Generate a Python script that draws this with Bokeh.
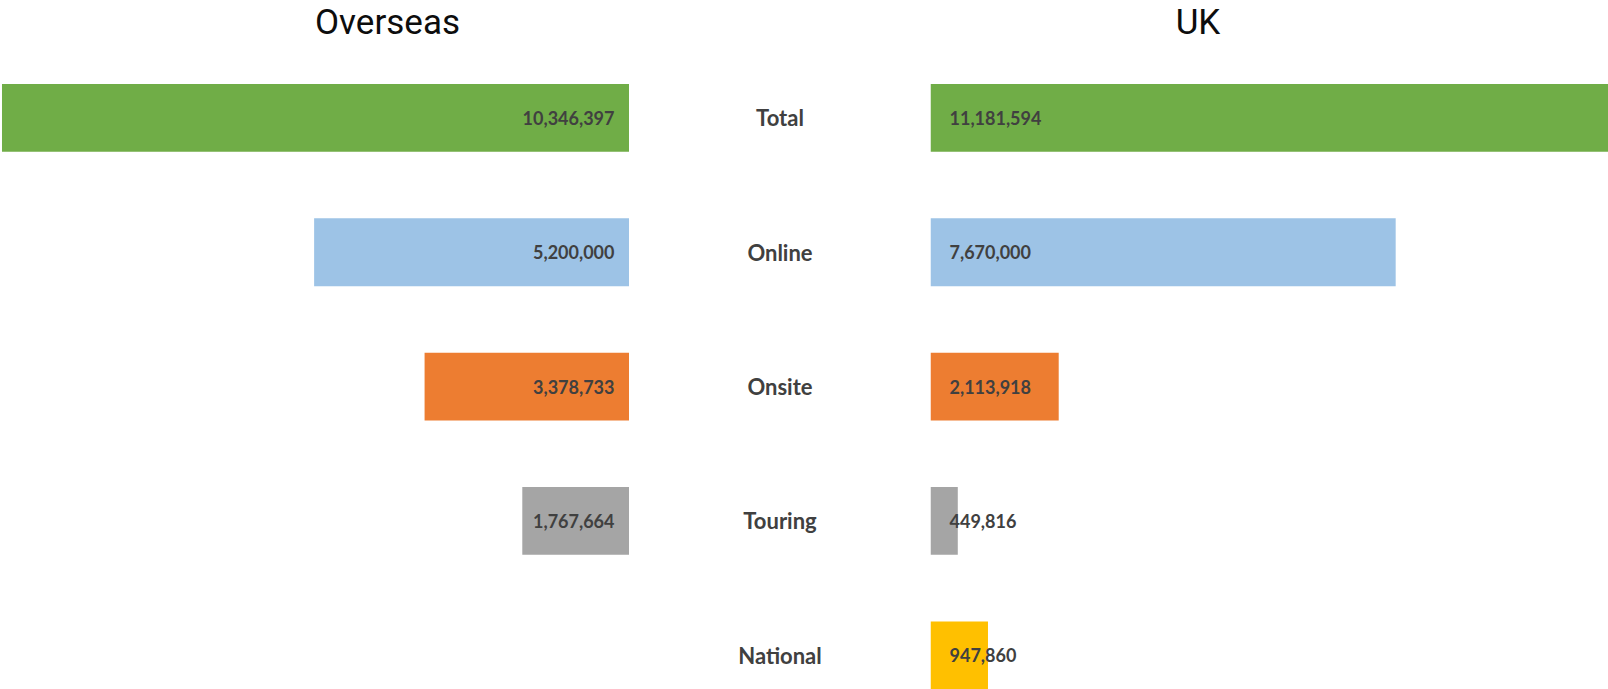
from bokeh.plotting import figure
from bokeh.models import ColumnDataSource, Range1d
from bokeh.layouts import row
from bokeh.embed import file_html
from bokeh.resources import INLINE
from bokeh.core.properties import value

# ---- data ----
categories = ["Total", "Online", "Onsite", "Touring", "National"]
overseas = [10346397, 5200000, 3378733, 1767664, None]
uk = [11181594, 7670000, 2113918, 449816, 947860]
colors = ["#70AD47", "#9DC3E6", "#ED7D31", "#A5A5A5", "#FFC000"]
panel_titles = ["Overseas", "UK"]

# ---- layout constants ----
H = 689
W_LEFT, W_MID, W_RIGHT = 629, 301, 678
PX_PER_UNIT = 60.65 / 1e6      # pixels per visitor
ROW_PITCH = 134.35             # pixels between category rows
FIRST_ROW = 117.4              # px from top to first row centre
BAR_H = 0.505
y_top = -FIRST_ROW / ROW_PITCH
y_bottom = y_top + H / ROW_PITCH
TITLE_POS_PX = 22.0
title_y = y_top + TITLE_POS_PX / ROW_PITCH

LABEL_FONT = value("Lato")
TITLE_FONT = value("Roboto")
TEXT_COLOR = "#404040"


def base_fig(width, x_range):
    p = figure(width=width, height=H, x_range=x_range,
               y_range=Range1d(start=y_bottom, end=y_top),
               output_backend="svg", toolbar_location=None,
               min_border=0, min_border_left=0, min_border_right=0,
               min_border_top=0, min_border_bottom=0)
    p.axis.visible = False
    p.grid.visible = False
    p.outline_line_color = None
    p.background_fill_color = "white"
    p.border_fill_color = "white"
    return p


def make_source(vals):
    ys, vs, cs, ts = [], [], [], []
    for i, v in enumerate(vals):
        if v is None:
            continue
        ys.append(i)
        vs.append(v)
        cs.append(colors[i])
        ts.append(f"{v:,}")
    return ColumnDataSource(dict(y=ys, v=vs, c=cs, t=ts))


def add_title(p, x, text):
    p.text(x=[x], y=[title_y], text=[text], text_align="center",
           text_baseline="alphabetic", text_font=TITLE_FONT,
           text_font_size="35px", text_color="#0d0d0d")


# ---- left: Overseas (reversed axis) ----
left = base_fig(W_LEFT, Range1d(start=W_LEFT / PX_PER_UNIT, end=0))
src_o = make_source(overseas)
left.hbar(y="y", left=0, right="v", height=BAR_H, fill_color="c",
          line_color=None, source=src_o)
left.text(x=0, y="y", text="t", source=src_o, text_align="right",
          text_baseline="middle", x_offset=-15, text_font=LABEL_FONT,
          text_font_style="bold", text_font_size="18px", text_color=TEXT_COLOR)
add_title(left, (W_LEFT - 387) / PX_PER_UNIT, panel_titles[0])

# ---- middle: category labels ----
mid = base_fig(W_MID, Range1d(0, 1))
src_c = ColumnDataSource(dict(y=list(range(len(categories))), t=categories,
                              x=[0.5] * len(categories)))
mid.text(x="x", y="y", text="t", source=src_c, text_align="center",
         text_baseline="middle", text_font=LABEL_FONT, text_font_style="bold",
         text_font_size="22px", text_color=TEXT_COLOR)

# ---- right: UK ----
right = base_fig(W_RIGHT, Range1d(start=0, end=W_RIGHT / PX_PER_UNIT))
src_u = make_source(uk)
right.hbar(y="y", left=0, right="v", height=BAR_H, fill_color="c",
           line_color=None, source=src_u)
right.text(x=0, y="y", text="t", source=src_u, text_align="left",
           text_baseline="middle", x_offset=19, text_font=LABEL_FONT,
           text_font_style="bold", text_font_size="18px", text_color=TEXT_COLOR)
add_title(right, 267.5 / PX_PER_UNIT, panel_titles[1])

layout = row(left, mid, right, spacing=0)
open("out.html", "w").write(file_html(layout, INLINE))
